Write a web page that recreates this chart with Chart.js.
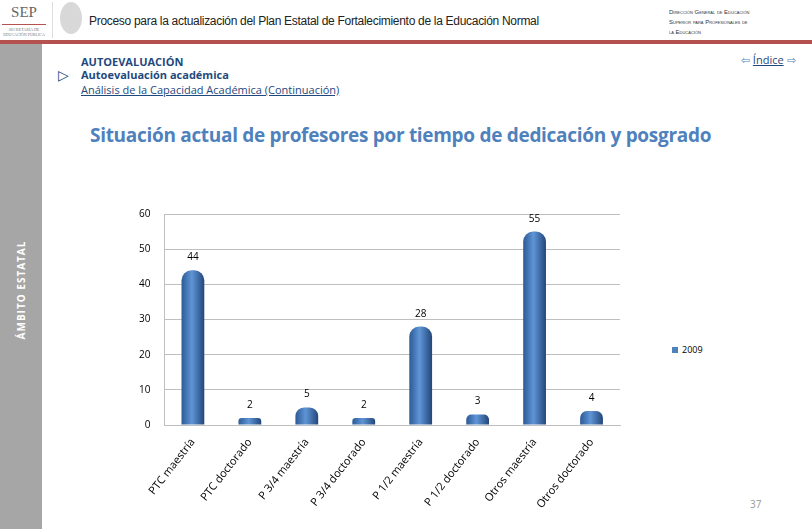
<!DOCTYPE html>
<html><head><meta charset="utf-8">
<script src="https://cdn.jsdelivr.net/npm/chart.js@4/dist/chart.umd.min.js"></script>
<style>
body{margin:0;width:812px;height:529px;position:relative;background:#fff;font-family:"Open Sans",Arial,sans-serif;overflow:hidden}
.abs{position:absolute}
#side{left:0;top:44px;width:42px;height:485px;background:#a6a6a6}
#side span{position:absolute;left:21px;top:246px;transform:translate(-50%,-50%) rotate(-90deg);color:#fff;font-size:10px;font-weight:bold;white-space:nowrap;letter-spacing:1px}
#bar{left:0;top:40px;width:812px;height:4px;background:#b5524f}
</style></head><body>
<div class="abs" style="left:6px;top:4px;width:36px;text-align:center;font-family:'Liberation Serif',serif;color:#666;font-size:15px">SEP</div>
<div class="abs" style="left:2px;top:24px;width:44px;height:1px;background:#b5524f"></div>
<div class="abs" style="left:2px;top:27px;font-size:4px;color:#777;font-family:'Liberation Serif',serif;line-height:5px;text-align:center;width:44px">SECRETARÍA DE<br>EDUCACIÓN PÚBLICA</div>
<div class="abs" style="left:52px;top:2px;width:1px;height:36px;background:#ddd"></div>
<div class="abs" style="left:60px;top:2px;width:22px;height:32px;border-radius:50%;background:#d8d8d8"></div>
<div class="abs" style="left:89px;top:14px;font-family:'Liberation Sans',Arial;font-size:12px;color:#222;letter-spacing:-0.3px">Proceso para la actualización del Plan Estatal de Fortalecimiento de la Educación Normal</div>
<div class="abs" style="left:669px;top:7px;font-family:'Liberation Sans',Arial;font-size:6px;color:#333;line-height:10px;font-variant:small-caps">Dirección General de Educación<br>Superior para Profesionales de<br>la Educación</div>
<div id="bar" class="abs"></div>
<div id="side" class="abs"><span>ÁMBITO ESTATAL</span></div>
<div class="abs" style="left:81px;top:54px;font-size:11px;font-weight:bold;color:#1f497d">AUTOEVALUACIÓN</div>
<div class="abs" style="left:58px;top:65px;font-size:14px;color:#1f497d">▷</div>
<div class="abs" style="left:81px;top:67px;font-size:11px;font-weight:bold;color:#1f497d">Autoevaluación académica</div>
<div class="abs" style="left:81px;top:82px;font-size:11px;color:#1f497d;text-decoration:underline">Análisis de la Capacidad Académica (Continuación)</div>
<div class="abs" style="left:741px;top:52px;font-size:11px;color:#1f497d"><span style="color:#4f81bd">⇦</span> <u>Índice</u> <span style="color:#4f81bd">⇨</span></div>
<div class="abs" style="left:90px;top:122px;font-size:19px;font-weight:bold;color:#4f81bd;letter-spacing:-0.3px">Situación actual de profesores por tiempo de dedicación y posgrado</div>
<div class="abs" style="left:672px;top:343px;font-size:9px;color:#000"><span style="display:inline-block;width:6px;height:6px;background:#4f81bd;margin-right:4px"></span>2009</div>
<div class="abs" style="left:750px;top:497px;font-size:10px;color:#999">37</div>
<div class="abs" style="left:125px;top:194px;width:515px;height:320px"><canvas id="c"></canvas></div>
<script>
const categories = ["PTC maestría","PTC doctorado","P 3/4 maestría","P 3/4 doctorado","P 1/2 maestría","P 1/2 doctorado","Otros maestría","Otros doctorado"];
const values2009 = [44,2,5,2,28,3,55,4];
const yTicks = [0,10,20,30,40,50,60];

Chart.defaults.font.family = "'Open Sans'";

const labelPlugin = {
  id: "vals",
  afterDatasetsDraw(chart) {
    const ctx = chart.ctx;
    ctx.save();
    ctx.font = "10px 'Open Sans'";
    ctx.fillStyle = "#000";
    ctx.textAlign = "center";
    chart.getDatasetMeta(0).data.forEach((b, i) => {
      ctx.fillText(values2009[i], b.x, b.y - 10);
    });
    ctx.restore();
  }
};

function barFill(c) {
  const el = c.element;
  if (!el || !isFinite(el.x) || !isFinite(el.width) || el.width <= 0) return "#4f81bd";
  const g = c.chart.ctx.createLinearGradient(el.x - el.width / 2, 0, el.x + el.width / 2, 0);
  g.addColorStop(0, "#2c5a96"); g.addColorStop(0.45, "#5f95d6"); g.addColorStop(1, "#23467a");
  return g;
}

const chart = new Chart(document.getElementById("c"), {
  type: "bar",
  data: { labels: categories, datasets: [{ label: "2009", data: values2009,
    backgroundColor: barFill,
    borderRadius: {topLeft: 10, topRight: 10, bottomLeft: 0, bottomRight: 0},
    borderSkipped: false,
    barPercentage: 0.4, categoryPercentage: 1 }] },
  options: {
    responsive: true, maintainAspectRatio: false, animation: false,
    layout: { padding: { top: 10, right: 20 } },
    plugins: { legend: { display: false }, tooltip: { enabled: false } },
    scales: {
      y: { min: 0, max: 60, afterBuildTicks: s => { s.ticks = yTicks.map(v => ({ value: v })); },
        ticks: { font: { size: 10 }, color: "#000", padding: 14 },
        grid: { color: "#bfbfbf", drawTicks: false }, border: { color: "#bfbfbf" } },
      x: { ticks: { font: { size: 11 }, color: "#000", minRotation: 52, maxRotation: 52 },
        grid: { display: false }, border: { color: "#bfbfbf" } }
    }
  },
  plugins: [labelPlugin]
});
chart.update();
</script>
</body></html>
